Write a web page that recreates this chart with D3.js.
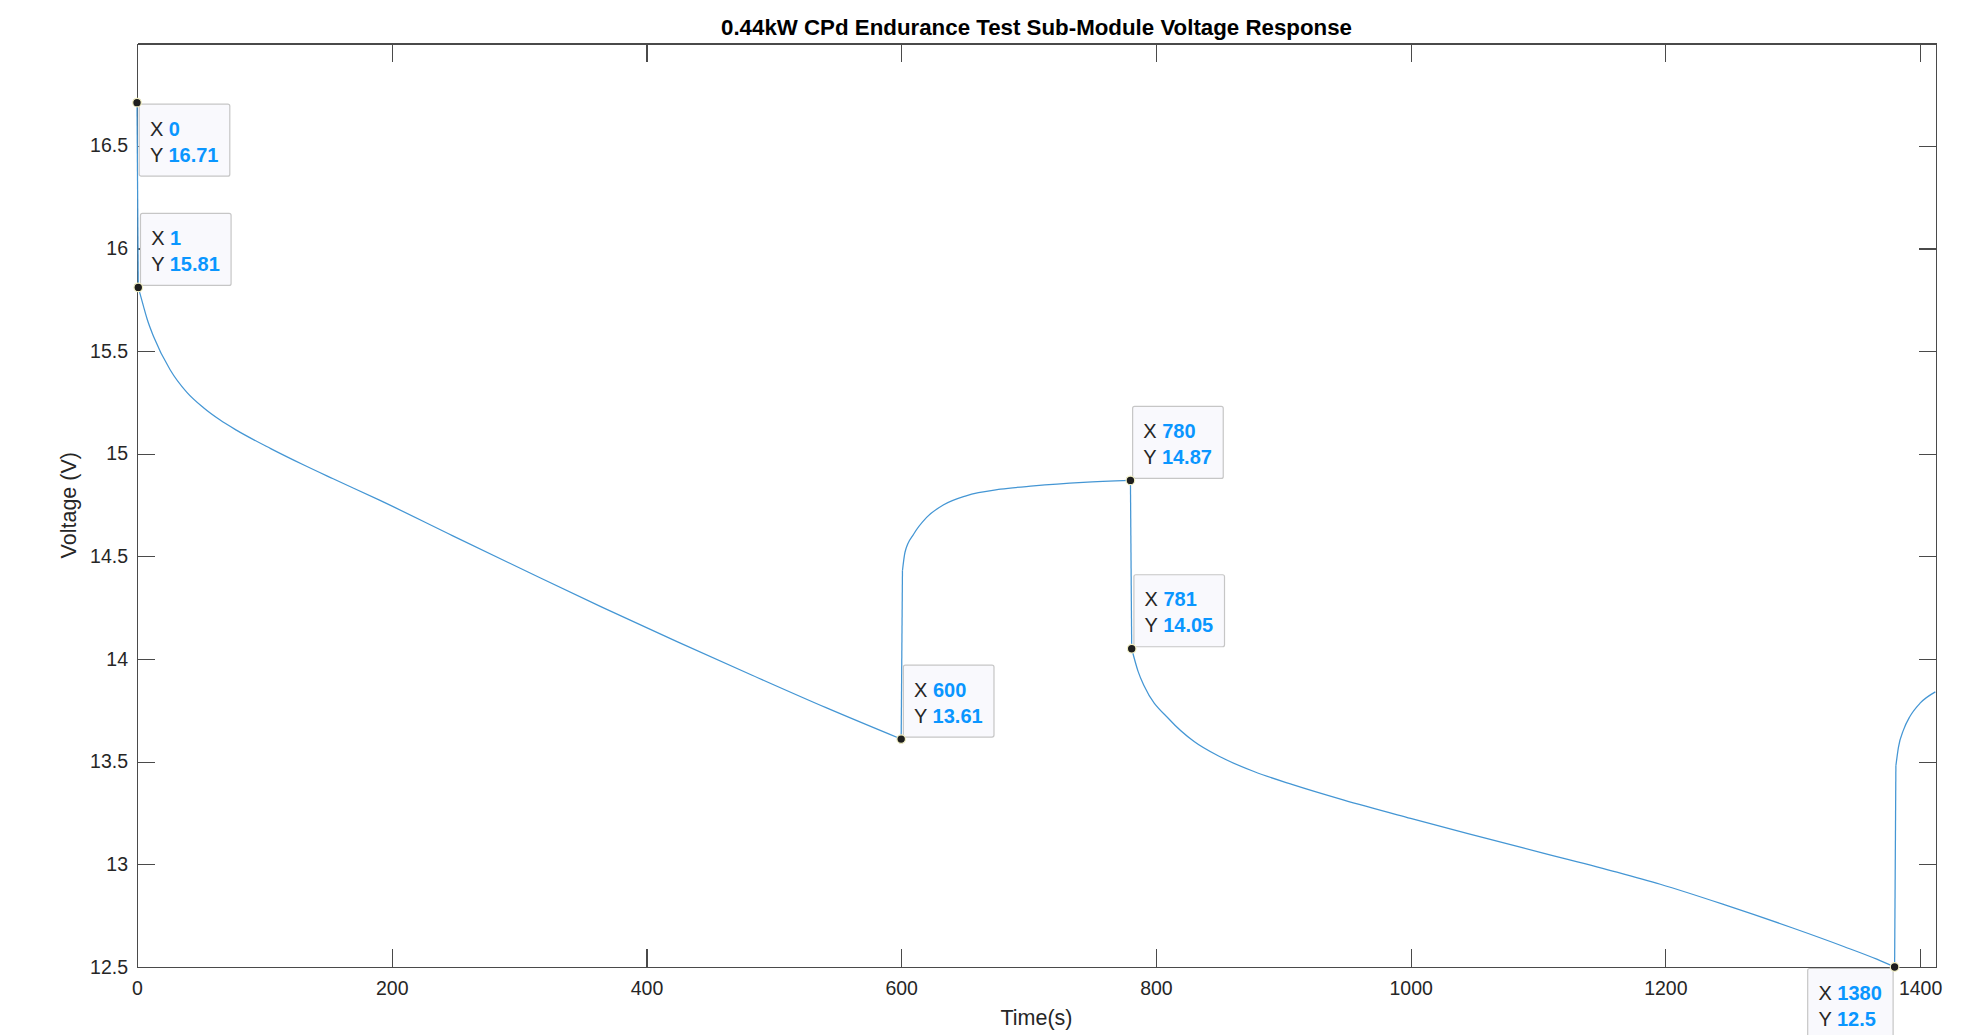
<!DOCTYPE html>
<html>
<head>
  <title>Sub-Module Voltage Response</title>
  <style>
    body {
      margin: 0;
      background: #ffffff;
      overflow: hidden;
    }

    svg {
      font-family: "Liberation Sans", Arial, Helvetica, sans-serif;
      display: block;
    }

    .axis path,
    .axis line {
      stroke: #4a4a4a;
      stroke-width: 1.2;
      shape-rendering: crispEdges;
    }

    .axis text {
      font-size: 19.5px;
      fill: #262626;
    }

    .title {
      font-size: 22.3px;
      font-weight: bold;
      fill: #000;
      text-anchor: middle;
    }

    .axis-label {
      font-size: 21.5px;
      fill: #262626;
      text-anchor: middle;
    }

    .voltage-line {
      fill: none;
      stroke: #4496d4;
      stroke-width: 1.25;
    }

    .tip-box {
      fill: #f9f9fd;
      stroke: #c6c6c6;
      stroke-width: 1.2;
    }

    .tip-text {
      font-size: 20px;
      fill: #262626;
    }

    .tip-value {
      font-weight: bold;
      fill: #0a96ff;
    }

    .tip-dot {
      fill: #1e1e1e;
      stroke: #f2f0c4;
      stroke-width: 1.2;
    }
  </style>
</head>

<body>
  <script src="https://d3js.org/d3.v7.min.js"></script>
  <script>
    // measured series (time in s, voltage in V)
    const timeS = [0, 1, 5, 8, 13, 26, 39, 52, 65, 78, 105, 131, 154, 190, 248, 307, 365, 424, 483, 541, 600,
      601, 603, 610, 620, 633, 651, 678, 704, 743, 780,
      781, 786, 791, 811, 830, 850, 877, 908, 947, 1000, 1045, 1104, 1162, 1196, 1248, 1300, 1340, 1366, 1380,
      1381, 1383, 1387, 1392, 1400, 1412];
    const voltageV = [16.71, 15.81, 15.72, 15.655, 15.571, 15.409, 15.30, 15.225, 15.165, 15.115, 15.025, 14.945, 14.878, 14.775,
      14.60, 14.424, 14.253, 14.085, 13.921, 13.763, 13.61,
      14.43, 14.52, 14.61, 14.69, 14.75, 14.795, 14.827, 14.843, 14.86, 14.87,
      14.05, 13.94, 13.866, 13.703, 13.598, 13.525, 13.452, 13.387, 13.314, 13.224, 13.15, 13.055, 12.962, 12.903,
      12.80, 12.69, 12.60, 12.538, 12.50,
      13.48, 13.57, 13.655, 13.72, 13.785, 13.84];

    // data tips
    const tipX = [0, 1, 600, 780, 781, 1380];
    const tipY = [16.71, 15.81, 13.61, 14.87, 14.05, 12.5];
    const tipPlace = ["below-right", "above-right", "above-right", "above-right", "above-right", "below-left"];

    const xTicks = [0, 200, 400, 600, 800, 1000, 1200, 1400];
    const yTicks = [12.5, 13, 13.5, 14, 14.5, 15, 15.5, 16, 16.5];

    const width = 1971;
    const height = 1035;
    const margin = { top: 43.5, right: 35, bottom: 68, left: 137 };
    const innerWidth = width - margin.left - margin.right;
    const innerHeight = height - margin.top - margin.bottom;

    const x = d3.scaleLinear()
      .domain([0, 1412.5])
      .range([0, innerWidth]);

    const y = d3.scaleLinear()
      .domain([12.5, 16.998])
      .range([innerHeight, 0]);

    const svg = d3.select("body")
      .append("svg")
      .attr("width", width)
      .attr("height", height);

    const g = svg.append("g")
      .attr("transform", `translate(${margin.left},${margin.top})`);

    // axes, ticks pointing inward on all four sides
    g.append("g")
      .attr("class", "axis")
      .attr("transform", `translate(0,${innerHeight})`)
      .call(d3.axisBottom(x).tickValues(xTicks).tickSize(-18).tickSizeOuter(0).tickPadding(14)
        .tickFormat(d => String(d)));

    g.append("g")
      .attr("class", "axis")
      .call(d3.axisTop(x).tickValues(xTicks).tickSize(-18).tickSizeOuter(0).tickFormat(""));

    g.append("g")
      .attr("class", "axis")
      .call(d3.axisLeft(y).tickValues(yTicks).tickSize(-18).tickSizeOuter(0).tickPadding(9)
        .tickFormat(d => String(d)));

    g.append("g")
      .attr("class", "axis")
      .attr("transform", `translate(${innerWidth},0)`)
      .call(d3.axisRight(y).tickValues(yTicks).tickSize(-17).tickSizeOuter(0).tickFormat(""));

    // voltage trace: smooth runs, straight steps where the load switches
    const points = timeS.map((t, i) => [t, voltageV[i]]);
    const runs = [[points[0]]];
    const steps = [];
    for (let i = 1; i < points.length; i++) {
      const p = points[i - 1], q = points[i];
      if (Math.abs((q[1] - p[1]) / (q[0] - p[0])) > 0.2) {
        steps.push([p, q]);
        runs.push([q]);
      } else {
        runs[runs.length - 1].push(q);
      }
    }

    const smooth = d3.line()
      .x(d => x(d[0]))
      .y(d => y(d[1]))
      .curve(d3.curveMonotoneX);
    const straight = d3.line()
      .x(d => x(d[0]))
      .y(d => y(d[1]));

    g.selectAll(".run")
      .data(runs.filter(r => r.length > 1))
      .enter()
      .append("path")
      .attr("class", "voltage-line")
      .attr("d", smooth);

    g.selectAll(".step")
      .data(steps)
      .enter()
      .append("path")
      .attr("class", "voltage-line")
      .attr("d", straight);

    // titles
    svg.append("text")
      .attr("class", "title")
      .attr("x", margin.left + innerWidth / 2)
      .attr("y", 35)
      .text("0.44kW CPd Endurance Test Sub-Module Voltage Response");

    svg.append("text")
      .attr("class", "axis-label")
      .attr("x", margin.left + innerWidth / 2)
      .attr("y", 1025)
      .text("Time(s)");

    svg.append("text")
      .attr("class", "axis-label")
      .attr("transform", `translate(76,${margin.top + innerHeight / 2}) rotate(-90)`)
      .text("Voltage (V)");

    // data tips
    tipX.forEach((tx, i) => {
      const px = x(tx);
      const py = y(tipY[i]);
      const tip = g.append("g");
      const box = tip.append("rect").attr("class", "tip-box").attr("rx", 2).attr("ry", 2);

      const t1 = tip.append("text").attr("class", "tip-text");
      t1.append("tspan").text("X ");
      t1.append("tspan").attr("class", "tip-value").text(String(tx));
      const t2 = tip.append("text").attr("class", "tip-text");
      t2.append("tspan").text("Y ");
      t2.append("tspan").attr("class", "tip-value").text(String(tipY[i]));

      const textW = Math.max(t1.node().getComputedTextLength(), t2.node().getComputedTextLength());
      const bw = textW + 22;
      const bh = 72;
      const place = tipPlace[i];
      const bx = place.endsWith("left") ? px - 1.5 - bw : px + 2.2;
      const by = place.startsWith("below") ? py + 1.5 : py - 2 - bh;

      box.attr("x", bx).attr("y", by).attr("width", bw).attr("height", bh);
      t1.attr("x", bx + 10.7).attr("y", by + 31.4);
      t2.attr("x", bx + 10.7).attr("y", by + 57.4);

      g.append("circle")
        .attr("class", "tip-dot")
        .attr("cx", px)
        .attr("cy", py)
        .attr("r", 4.3);
    });
  </script>
</body>
</html>
